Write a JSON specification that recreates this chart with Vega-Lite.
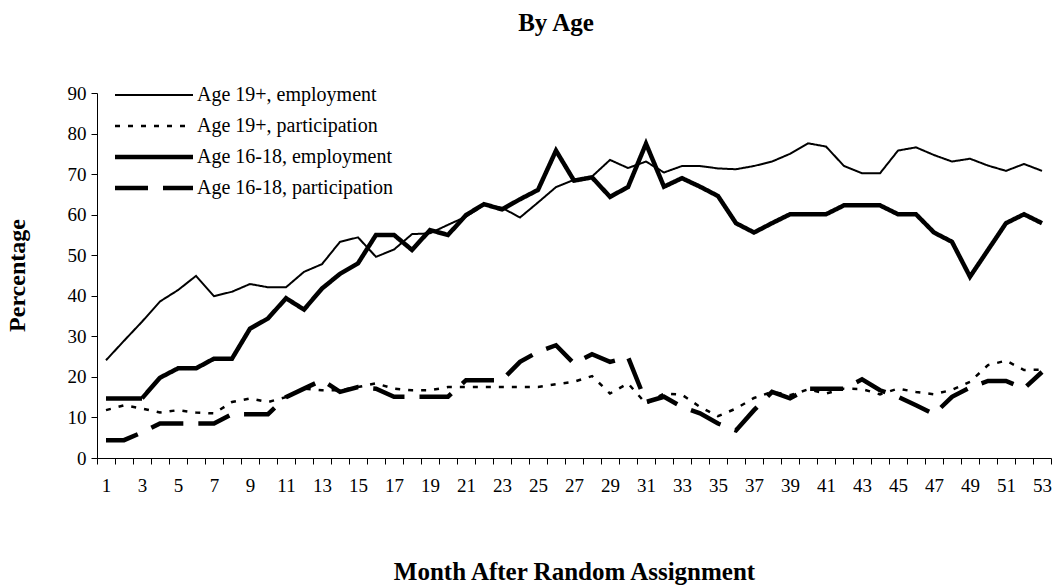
{
"$schema":"https://vega.github.io/schema/vega-lite/v6.json",
"autosize":{"type":"none"},
"width":954,"height":365,
"padding":{"left":97,"top":93,"right":3,"bottom":127},
"background":"white",
"title":{"text":"By Age","font":"Liberation Serif","fontSize":25,"fontWeight":"bold","color":"black","anchor":"middle","frame":"group","baseline":"alphabetic","offset":28,"dx":-18},
"config":{"view":{"stroke":null},"mark":{"color":"black"}},
"datasets":{"d":[
{"month":1,"series":"Age 19+, employment","pct":24.1},{"month":2,"series":"Age 19+, employment","pct":28.9},{"month":3,"series":"Age 19+, employment","pct":33.6},{"month":4,"series":"Age 19+, employment","pct":38.6},{"month":5,"series":"Age 19+, employment","pct":41.4},{"month":6,"series":"Age 19+, employment","pct":44.9},{"month":7,"series":"Age 19+, employment","pct":39.9},{"month":8,"series":"Age 19+, employment","pct":41},{"month":9,"series":"Age 19+, employment","pct":42.9},{"month":10,"series":"Age 19+, employment","pct":42.1},
{"month":11,"series":"Age 19+, employment","pct":42.1},{"month":12,"series":"Age 19+, employment","pct":45.9},{"month":13,"series":"Age 19+, employment","pct":47.8},{"month":14,"series":"Age 19+, employment","pct":53.3},{"month":15,"series":"Age 19+, employment","pct":54.4},{"month":16,"series":"Age 19+, employment","pct":49.6},{"month":17,"series":"Age 19+, employment","pct":51.4},{"month":18,"series":"Age 19+, employment","pct":55.2},{"month":19,"series":"Age 19+, employment","pct":55.4},{"month":20,"series":"Age 19+, employment","pct":57.5},
{"month":21,"series":"Age 19+, employment","pct":59.5},{"month":22,"series":"Age 19+, employment","pct":62.4},{"month":23,"series":"Age 19+, employment","pct":61.7},{"month":24,"series":"Age 19+, employment","pct":59.3},{"month":25,"series":"Age 19+, employment","pct":63},{"month":26,"series":"Age 19+, employment","pct":66.8},{"month":27,"series":"Age 19+, employment","pct":68.6},{"month":28,"series":"Age 19+, employment","pct":69.4},{"month":29,"series":"Age 19+, employment","pct":73.5},{"month":30,"series":"Age 19+, employment","pct":71.5},
{"month":31,"series":"Age 19+, employment","pct":73.1},{"month":32,"series":"Age 19+, employment","pct":70.4},{"month":33,"series":"Age 19+, employment","pct":72},{"month":34,"series":"Age 19+, employment","pct":72},{"month":35,"series":"Age 19+, employment","pct":71.4},{"month":36,"series":"Age 19+, employment","pct":71.2},{"month":37,"series":"Age 19+, employment","pct":72},{"month":38,"series":"Age 19+, employment","pct":73.1},{"month":39,"series":"Age 19+, employment","pct":75},{"month":40,"series":"Age 19+, employment","pct":77.6},
{"month":41,"series":"Age 19+, employment","pct":76.8},{"month":42,"series":"Age 19+, employment","pct":72},{"month":43,"series":"Age 19+, employment","pct":70.2},{"month":44,"series":"Age 19+, employment","pct":70.2},{"month":45,"series":"Age 19+, employment","pct":75.8},{"month":46,"series":"Age 19+, employment","pct":76.6},{"month":47,"series":"Age 19+, employment","pct":74.7},{"month":48,"series":"Age 19+, employment","pct":73.1},{"month":49,"series":"Age 19+, employment","pct":73.8},{"month":50,"series":"Age 19+, employment","pct":72.1},
{"month":51,"series":"Age 19+, employment","pct":70.8},{"month":52,"series":"Age 19+, employment","pct":72.5},{"month":53,"series":"Age 19+, employment","pct":70.8},
{"month":1,"series":"Age 19+, participation","pct":11.8},{"month":2,"series":"Age 19+, participation","pct":13},{"month":3,"series":"Age 19+, participation","pct":12.2},{"month":4,"series":"Age 19+, participation","pct":11.2},{"month":5,"series":"Age 19+, participation","pct":11.8},{"month":6,"series":"Age 19+, participation","pct":11.2},{"month":7,"series":"Age 19+, participation","pct":11},{"month":8,"series":"Age 19+, participation","pct":13.8},{"month":9,"series":"Age 19+, participation","pct":14.7},{"month":10,"series":"Age 19+, participation","pct":13.8},
{"month":11,"series":"Age 19+, participation","pct":15},{"month":12,"series":"Age 19+, participation","pct":17.1},{"month":13,"series":"Age 19+, participation","pct":16.7},{"month":14,"series":"Age 19+, participation","pct":16.7},{"month":15,"series":"Age 19+, participation","pct":17.5},{"month":16,"series":"Age 19+, participation","pct":18.4},{"month":17,"series":"Age 19+, participation","pct":17.1},{"month":18,"series":"Age 19+, participation","pct":16.7},{"month":19,"series":"Age 19+, participation","pct":16.7},{"month":20,"series":"Age 19+, participation","pct":17.5},
{"month":21,"series":"Age 19+, participation","pct":17.5},{"month":22,"series":"Age 19+, participation","pct":17.5},{"month":23,"series":"Age 19+, participation","pct":17.5},{"month":24,"series":"Age 19+, participation","pct":17.5},{"month":25,"series":"Age 19+, participation","pct":17.5},{"month":26,"series":"Age 19+, participation","pct":18.2},{"month":27,"series":"Age 19+, participation","pct":18.8},{"month":28,"series":"Age 19+, participation","pct":20.2},{"month":29,"series":"Age 19+, participation","pct":15.9},{"month":30,"series":"Age 19+, participation","pct":18.4},
{"month":31,"series":"Age 19+, participation","pct":13.4},{"month":32,"series":"Age 19+, participation","pct":15.9},{"month":33,"series":"Age 19+, participation","pct":15.6},{"month":34,"series":"Age 19+, participation","pct":12.6},{"month":35,"series":"Age 19+, participation","pct":10.3},{"month":36,"series":"Age 19+, participation","pct":12.2},{"month":37,"series":"Age 19+, participation","pct":14.8},{"month":38,"series":"Age 19+, participation","pct":16.3},{"month":39,"series":"Age 19+, participation","pct":15.5},{"month":40,"series":"Age 19+, participation","pct":16.9},
{"month":41,"series":"Age 19+, participation","pct":15.9},{"month":42,"series":"Age 19+, participation","pct":17.1},{"month":43,"series":"Age 19+, participation","pct":17},{"month":44,"series":"Age 19+, participation","pct":15.7},{"month":45,"series":"Age 19+, participation","pct":17.1},{"month":46,"series":"Age 19+, participation","pct":16.3},{"month":47,"series":"Age 19+, participation","pct":15.7},{"month":48,"series":"Age 19+, participation","pct":16.8},{"month":49,"series":"Age 19+, participation","pct":18.8},{"month":50,"series":"Age 19+, participation","pct":22.9},
{"month":51,"series":"Age 19+, participation","pct":24},{"month":52,"series":"Age 19+, participation","pct":21.7},{"month":53,"series":"Age 19+, participation","pct":21.8},
{"month":1,"series":"Age 16-18, employment","pct":14.7},{"month":2,"series":"Age 16-18, employment","pct":14.7},{"month":3,"series":"Age 16-18, employment","pct":14.7},{"month":4,"series":"Age 16-18, employment","pct":19.8},{"month":5,"series":"Age 16-18, employment","pct":22.1},{"month":6,"series":"Age 16-18, employment","pct":22.1},{"month":7,"series":"Age 16-18, employment","pct":24.5},{"month":8,"series":"Age 16-18, employment","pct":24.5},{"month":9,"series":"Age 16-18, employment","pct":31.9},{"month":10,"series":"Age 16-18, employment","pct":34.4},
{"month":11,"series":"Age 16-18, employment","pct":39.4},{"month":12,"series":"Age 16-18, employment","pct":36.6},{"month":13,"series":"Age 16-18, employment","pct":41.8},{"month":14,"series":"Age 16-18, employment","pct":45.4},{"month":15,"series":"Age 16-18, employment","pct":48},{"month":16,"series":"Age 16-18, employment","pct":55},{"month":17,"series":"Age 16-18, employment","pct":55},{"month":18,"series":"Age 16-18, employment","pct":51.3},{"month":19,"series":"Age 16-18, employment","pct":56.2},{"month":20,"series":"Age 16-18, employment","pct":55},
{"month":21,"series":"Age 16-18, employment","pct":59.9},{"month":22,"series":"Age 16-18, employment","pct":62.6},{"month":23,"series":"Age 16-18, employment","pct":61.3},{"month":24,"series":"Age 16-18, employment","pct":63.8},{"month":25,"series":"Age 16-18, employment","pct":66.1},{"month":26,"series":"Age 16-18, employment","pct":75.8},{"month":27,"series":"Age 16-18, employment","pct":68.4},{"month":28,"series":"Age 16-18, employment","pct":69.2},{"month":29,"series":"Age 16-18, employment","pct":64.4},{"month":30,"series":"Age 16-18, employment","pct":66.8},
{"month":31,"series":"Age 16-18, employment","pct":77.5},{"month":32,"series":"Age 16-18, employment","pct":66.9},{"month":33,"series":"Age 16-18, employment","pct":69},{"month":34,"series":"Age 16-18, employment","pct":66.9},{"month":35,"series":"Age 16-18, employment","pct":64.6},{"month":36,"series":"Age 16-18, employment","pct":57.9},{"month":37,"series":"Age 16-18, employment","pct":55.6},{"month":38,"series":"Age 16-18, employment","pct":57.9},{"month":39,"series":"Age 16-18, employment","pct":60.1},{"month":40,"series":"Age 16-18, employment","pct":60.1},
{"month":41,"series":"Age 16-18, employment","pct":60.1},{"month":42,"series":"Age 16-18, employment","pct":62.3},{"month":43,"series":"Age 16-18, employment","pct":62.3},{"month":44,"series":"Age 16-18, employment","pct":62.3},{"month":45,"series":"Age 16-18, employment","pct":60.1},{"month":46,"series":"Age 16-18, employment","pct":60.1},{"month":47,"series":"Age 16-18, employment","pct":55.6},{"month":48,"series":"Age 16-18, employment","pct":53.3},{"month":49,"series":"Age 16-18, employment","pct":44.7},{"month":50,"series":"Age 16-18, employment","pct":51.3},
{"month":51,"series":"Age 16-18, employment","pct":57.9},{"month":52,"series":"Age 16-18, employment","pct":60.1},{"month":53,"series":"Age 16-18, employment","pct":57.9},
{"month":1,"series":"Age 16-18, participation","pct":4.4},{"month":2,"series":"Age 16-18, participation","pct":4.4},{"month":3,"series":"Age 16-18, participation","pct":6.3},{"month":4,"series":"Age 16-18, participation","pct":8.5},{"month":5,"series":"Age 16-18, participation","pct":8.5},{"month":6,"series":"Age 16-18, participation","pct":8.5},{"month":7,"series":"Age 16-18, participation","pct":8.5},{"month":8,"series":"Age 16-18, participation","pct":10.8},{"month":9,"series":"Age 16-18, participation","pct":10.8},{"month":10,"series":"Age 16-18, participation","pct":10.8},
{"month":11,"series":"Age 16-18, participation","pct":15},{"month":12,"series":"Age 16-18, participation","pct":17.1},{"month":13,"series":"Age 16-18, participation","pct":19.2},{"month":14,"series":"Age 16-18, participation","pct":16.3},{"month":15,"series":"Age 16-18, participation","pct":17.5},{"month":16,"series":"Age 16-18, participation","pct":17.1},{"month":17,"series":"Age 16-18, participation","pct":15.1},{"month":18,"series":"Age 16-18, participation","pct":15.1},{"month":19,"series":"Age 16-18, participation","pct":15.1},{"month":20,"series":"Age 16-18, participation","pct":15.1},
{"month":21,"series":"Age 16-18, participation","pct":19.2},{"month":22,"series":"Age 16-18, participation","pct":19.2},{"month":23,"series":"Age 16-18, participation","pct":19.2},{"month":24,"series":"Age 16-18, participation","pct":23.7},{"month":25,"series":"Age 16-18, participation","pct":26.2},{"month":26,"series":"Age 16-18, participation","pct":27.8},{"month":27,"series":"Age 16-18, participation","pct":23.3},{"month":28,"series":"Age 16-18, participation","pct":25.6},{"month":29,"series":"Age 16-18, participation","pct":23.7},{"month":30,"series":"Age 16-18, participation","pct":24.9},
{"month":31,"series":"Age 16-18, participation","pct":13.8},{"month":32,"series":"Age 16-18, participation","pct":15.1},{"month":33,"series":"Age 16-18, participation","pct":12.6},{"month":34,"series":"Age 16-18, participation","pct":11},{"month":35,"series":"Age 16-18, participation","pct":8.5},{"month":36,"series":"Age 16-18, participation","pct":6.8},{"month":37,"series":"Age 16-18, participation","pct":11.8},{"month":38,"series":"Age 16-18, participation","pct":16.3},{"month":39,"series":"Age 16-18, participation","pct":14.7},{"month":40,"series":"Age 16-18, participation","pct":17.1},
{"month":41,"series":"Age 16-18, participation","pct":17.1},{"month":42,"series":"Age 16-18, participation","pct":17.1},{"month":43,"series":"Age 16-18, participation","pct":19.4},{"month":44,"series":"Age 16-18, participation","pct":16.7},{"month":45,"series":"Age 16-18, participation","pct":15.1},{"month":46,"series":"Age 16-18, participation","pct":13},{"month":47,"series":"Age 16-18, participation","pct":10.8},{"month":48,"series":"Age 16-18, participation","pct":15.1},{"month":49,"series":"Age 16-18, participation","pct":17.4},{"month":50,"series":"Age 16-18, participation","pct":19},
{"month":51,"series":"Age 16-18, participation","pct":19},{"month":52,"series":"Age 16-18, participation","pct":17.1},{"month":53,"series":"Age 16-18, participation","pct":21.2}
]},
"data":{"name":"d"},
"encoding":{
"x":{"field":"month","type":"ordinal","sort":"ascending",
"scale":{"type":"band","paddingInner":0,"paddingOuter":0},
"axis":{"title":"Month After Random Assignment","titleFont":"Liberation Serif","titleFontSize":25,"titleFontWeight":"bold","titleColor":"black","titleBaseline":"alphabetic","titleY":121,
"labelFont":"Liberation Serif","labelFontSize":19,"labelColor":"black","labelAngle":0,"labelPadding":12,"labelOverlap":false,
"labelExpr":"datum.value % 2 == 1 ? datum.label : ''",
"tickBand":"extent","tickSize":6,"tickColor":"black","domainColor":"black","grid":false}},
"y":{"field":"pct","type":"quantitative",
"scale":{"domain":[0,90],"nice":false},
"axis":{"title":"Percentage","values":[0,10,20,30,40,50,60,70,80,90],"titleFont":"Liberation Serif","titleFontSize":24,"titleFontWeight":"bold","titleColor":"black","titleX":-80,"titleY":182,"titleAngle":-90,"titleBaseline":"middle","titleAlign":"center",
"labelFont":"Liberation Serif","labelFontSize":19,"labelColor":"black","labelPadding":5,
"tickSize":6,"tickColor":"black","domainColor":"black","grid":false}},
"strokeDash":{"field":"series","type":"nominal",
"scale":{"domain":["Age 19+, employment","Age 19+, participation","Age 16-18, employment","Age 16-18, participation"],"range":[[1,0],[5,8],[1,0],[33,15]]},
"legend":{"orient":"none","legendX":18,"legendY":-8,"title":null,"labelFont":"Liberation Serif","labelFontSize":20,"labelColor":"black","labelLimit":400,"symbolType":"stroke","symbolSize":6084,"symbolStrokeColor":"black","symbolOffset":29,"clipHeight":20,"rowPadding":11,"labelOffset":33,"padding":0,
"encode":{"symbols":{"update":{"strokeWidth":{"signal":"(datum.value === 'Age 16-18, employment' || datum.value === 'Age 16-18, participation') ? 4.5 : (datum.value === 'Age 19+, participation' ? 2.5 : 2)"}}}}}}
},
"layer":[
{"transform":[{"filter":{"field":"series","equal":"Age 19+, employment"}}],"mark":{"type":"line","color":"black","strokeWidth":2}},
{"transform":[{"filter":{"field":"series","equal":"Age 19+, participation"}}],"mark":{"type":"line","color":"black","strokeWidth":2.5}},
{"transform":[{"filter":{"field":"series","equal":"Age 16-18, employment"}}],"mark":{"type":"line","color":"black","strokeWidth":4.5}},
{"transform":[{"filter":{"field":"series","equal":"Age 16-18, participation"}}],"mark":{"type":"line","color":"black","strokeWidth":4.5}}
]
}
